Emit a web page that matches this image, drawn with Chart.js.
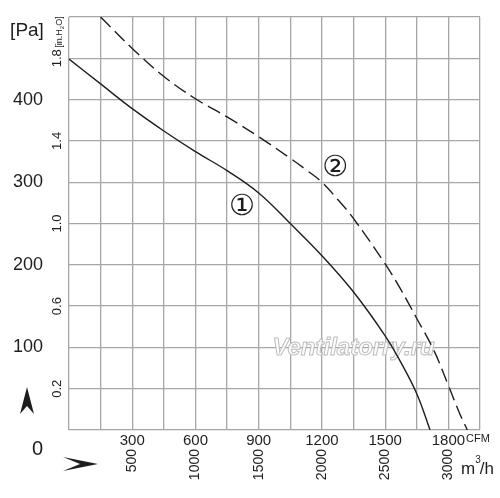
<!DOCTYPE html>
<html><head><meta charset="utf-8">
<script src="https://cdn.jsdelivr.net/npm/chart.js@4.4.1/dist/chart.umd.min.js"></script>
<style>html,body{margin:0;padding:0;background:#fff;} #wrap{width:500px;height:498px;}</style>
</head><body><div id="wrap"><canvas id="c" width="500" height="498"></canvas></div>
<script>
const SANS = "'Liberation Sans', Arial, sans-serif";

// tick labels
const cfmTickLabels = [300, 600, 900, 1200, 1500, 1800];
const m3hTickLabels = [500, 1000, 1500, 2000, 2500, 3000];
const paTickLabels = [100, 200, 300, 400];
const inH2OTickLabels = [0.2, 0.6, 1.0, 1.4, 1.8];

// curve 1 (solid): flow in CFM, static pressure in Pa
const curve1Flow = [0, 150, 300, 450, 600, 750, 900, 1050, 1200, 1350, 1500, 1570, 1650, 1713];
const curve1Pressure = [449, 419, 389, 362, 337, 314, 287, 250, 211, 167, 114, 84, 44, 0];
// curve 2 (dashed)
const curve2Flow = [150, 300, 450, 600, 750, 900, 1050, 1125, 1200, 1275, 1350, 1500, 1570, 1650, 1730, 1800, 1855, 1890];
const curve2Pressure = [500, 462, 428, 401, 379, 355, 329, 315, 300, 279, 256, 201, 172, 135, 97, 54, 19, 0];
const curveNames = ['①', '②'];

const GRID = '#a6a6a6';
const INK = '#1e1e1e';

const extras = {
  id: 'extras',
  beforeDatasetsDraw(chart) {
    const ctx = chart.ctx, xs = chart.scales.x, ys = chart.scales.y;
    ctx.save();
    ctx.font = "italic bold 24px " + SANS;
    ctx.textAlign = 'center'; ctx.textBaseline = 'alphabetic';
    const wx = xs.getPixelForValue(1350), wy = ys.getPixelForValue(91);
    ctx.fillStyle = 'rgba(255,255,255,0.9)';
    ctx.fillText('Ventilatorry.ru', wx, wy);
    ctx.strokeStyle = '#bdbdbd'; ctx.lineWidth = 1;
    ctx.strokeText('Ventilatorry.ru', wx, wy);
    ctx.restore();
  },
  afterDraw(chart) {
    const ctx = chart.ctx, xs = chart.scales.x, ys = chart.scales.y;
    ctx.save();
    ctx.fillStyle = INK;
    // [Pa]
    ctx.font = "19px " + SANS;
    ctx.textAlign = 'center'; ctx.textBaseline = 'middle';
    ctx.fillText('[Pa]', 27, 31);
    // 0
    ctx.font = "20px " + SANS;
    ctx.textAlign = 'right';
    ctx.fillText('0', 43, 449);
    // [in.H2O] rotated
    ctx.save();
    ctx.translate(58, 32);
    ctx.rotate(-Math.PI / 2);
    const p1 = '[in.H', p2 = '2', p3 = 'O]';
    ctx.font = "9px " + SANS; const w1 = ctx.measureText(p1).width;
    ctx.font = "6px " + SANS; const w2 = ctx.measureText(p2).width;
    ctx.font = "9px " + SANS; const w3 = ctx.measureText(p3).width;
    let sx = -(w1 + w2 + w3) / 2;
    ctx.textAlign = 'left'; ctx.textBaseline = 'alphabetic';
    ctx.fillText(p1, sx, 3.5); sx += w1;
    ctx.font = "6px " + SANS; ctx.fillText(p2, sx, 5.5); sx += w2;
    ctx.font = "9px " + SANS; ctx.fillText(p3, sx, 3.5);
    ctx.restore();
    // CFM
    ctx.font = "11px " + SANS;
    ctx.textAlign = 'left'; ctx.textBaseline = 'middle';
    ctx.fillText('CFM', 466, 439);
    // m3/h
    ctx.textBaseline = 'alphabetic';
    ctx.font = "17px " + SANS;
    let mx = 461;
    ctx.fillText('m', mx, 474); mx += ctx.measureText('m').width;
    ctx.font = "10px " + SANS;
    ctx.fillText('3', mx, 463); mx += ctx.measureText('3').width - 1;
    ctx.font = "17px " + SANS;
    ctx.fillText('/h', mx, 474);
    // arrows
    ctx.beginPath();
    ctx.moveTo(27, 387); ctx.lineTo(34, 414); ctx.lineTo(27, 406); ctx.lineTo(20, 414); ctx.closePath();
    ctx.fill();
    ctx.beginPath();
    ctx.moveTo(98, 464); ctx.lineTo(63, 457); ctx.lineTo(80, 464); ctx.lineTo(63, 471); ctx.closePath();
    ctx.fill();
    // curve names
    ctx.font = "29px 'DejaVu Serif', 'DejaVu Sans', sans-serif";
    ctx.textAlign = 'center'; ctx.textBaseline = 'middle';
    ctx.fillText(curveNames[0], xs.getPixelForValue(821), ys.getPixelForValue(269));
    ctx.fillText(curveNames[1], xs.getPixelForValue(1263), ys.getPixelForValue(317));
    ctx.restore();
  }
};

const tickFont = (size) => ({ family: SANS, size: size });

new Chart(document.getElementById('c'), {
  type: 'line',
  data: {
    datasets: [
      {
        label: 'Curve 1',
        data: curve1Flow.map((x, i) => ({ x: x, y: curve1Pressure[i] })),
        borderColor: INK, borderWidth: 1.4, pointRadius: 0, tension: 0.4,
        xAxisID: 'x', yAxisID: 'y'
      },
      {
        label: 'Curve 2',
        data: curve2Flow.map((x, i) => ({ x: x, y: curve2Pressure[i] })),
        borderColor: INK, borderWidth: 1.4, pointRadius: 0, borderDash: [14, 6], tension: 0.4,
        xAxisID: 'x', yAxisID: 'y'
      }
    ]
  },
  options: {
    responsive: false,
    animation: false,
    layout: { padding: { left: 0, top: 17, right: 20, bottom: 10 } },
    plugins: { legend: { display: false }, tooltip: { enabled: false } },
    scales: {
      x: {
        type: 'linear', position: 'bottom', weight: 1, min: 0, max: 1950,
        ticks: {
          stepSize: 150, autoSkip: false, maxRotation: 0, minRotation: 0, padding: 2,
          color: INK, font: tickFont(15),
          callback: (v) => cfmTickLabels.includes(v) ? String(v) : ''
        },
        grid: { color: GRID, lineWidth: 1.3, drawTicks: false },
        border: { display: false },
        afterFit: (s) => { s.height = 18; }
      },
      x2: {
        type: 'linear', position: 'bottom', weight: 2, min: 0, max: 3250,
        afterBuildTicks: (s) => { s.ticks = m3hTickLabels.map(v => ({ value: v })); },
        ticks: {
          autoSkip: false, minRotation: 90, maxRotation: 90, padding: 1,
          color: INK, font: tickFont(14),
          callback: (v) => String(v)
        },
        grid: { display: false, drawTicks: false },
        border: { display: false },
        afterFit: (s) => { s.height = 40; }
      },
      y: {
        type: 'linear', position: 'left', weight: 2, min: 0, max: 500,
        ticks: {
          stepSize: 50, autoSkip: false, padding: 3,
          color: INK, font: tickFont(18),
          callback: (v) => paTickLabels.includes(v) ? String(v) : ''
        },
        grid: { color: GRID, lineWidth: 1.3, drawTicks: false },
        border: { display: false },
        afterFit: (s) => { s.width = 46; }
      },
      y2: {
        type: 'linear', position: 'left', weight: 1, min: 0, max: 2.0,
        afterBuildTicks: (s) => { s.ticks = inH2OTickLabels.map(v => ({ value: v })); },
        ticks: {
          autoSkip: false, minRotation: 90, maxRotation: 90, padding: 3, crossAlign: 'center',
          color: INK, font: tickFont(13),
          callback: (v) => v.toFixed(1)
        },
        grid: { display: false, drawTicks: false },
        border: { display: false },
        afterFit: (s) => { s.width = 23; }
      }
    }
  },
  plugins: [extras]
});
</script>
</body></html>
